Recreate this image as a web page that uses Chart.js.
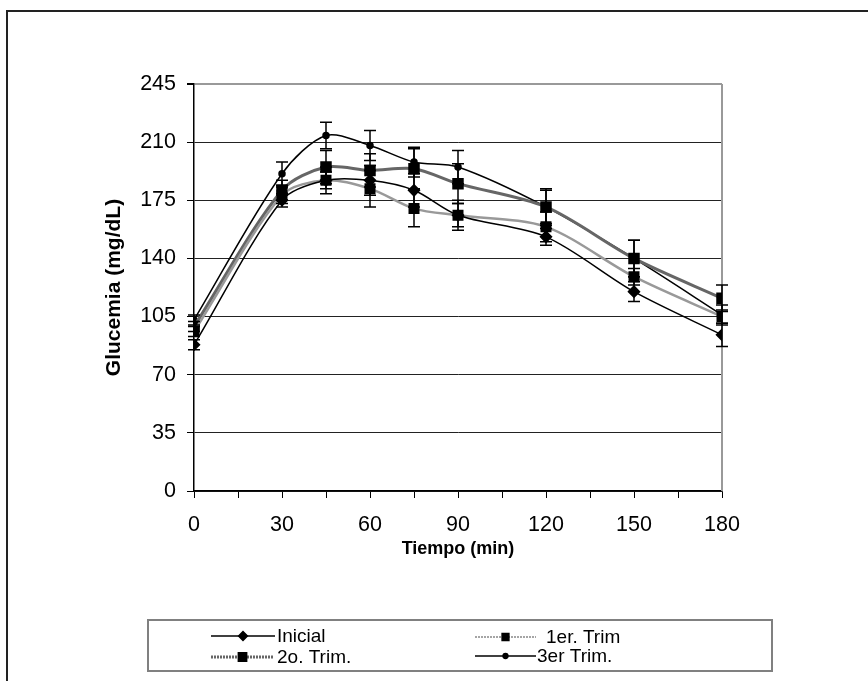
<!DOCTYPE html>
<html lang="es">
<head>
  <meta charset="UTF-8">
  <title>Glucemia por trimestre</title>
  <script src="https://cdn.jsdelivr.net/npm/chart.js"></script>
  <style>
    html, body { margin: 0; padding: 0; background: #fff; overflow: hidden; }
    #marco { position: absolute; left: 6px; top: 10px; width: 900px; height: 700px; border: 2px solid #222; }
    #wrap { position: absolute; left: 0; top: 0; width: 868px; height: 681px; }
  </style>
</head>
<body>
  <div id="marco"></div>
  <div id="wrap"><canvas id="grafica"></canvas></div>

  <script>
    // tiempos de muestreo (min)
    const tiempo = [0, 30, 45, 60, 75, 90, 120, 150, 180];

    // glucemia media (mg/dL) por grupo
    const inicial = [88, 175, 187, 187, 181, 166, 153, 120, 94];
    const trim1   = [96, 178, 187, 182, 170, 166, 159, 129, 105];
    const trim2   = [99, 181, 195, 193, 194, 185, 171, 140, 116];
    const trim3   = [103, 191, 214, 208, 198, 195, 171, 140, 106];

    // error (+/-) de cada punto
    const errInicial = [3, 4, 5, 9, 10, 9, 5, 6, 7];
    const errTrim1   = [3, 5, 8, 11, 11, 7, 9, 5, 4];
    const errTrim2   = [3, 6, 10, 10, 12, 12, 10, 11, 8];
    const errTrim3   = [3, 7, 8, 9, 9, 10, 11, 11, 6];

    // etiquetas de ejes
    const xLabels = [0, 30, 60, 90, 120, 150, 180];
    const yLabels = [0, 35, 70, 105, 140, 175, 210, 245];

    const puntos = vals => tiempo.map((t, i) => ({ x: t, y: vals[i] }));

    // barras de error dibujadas con las escalas del grafico
    const barrasError = {
      id: 'barrasError',
      afterDatasetsDraw(chart) {
        const { ctx, scales: { x, y } } = chart;
        ctx.save();
        ctx.strokeStyle = '#000';
        ctx.lineWidth = 1.5;
        chart.data.datasets.forEach(ds => {
          ds.errores.forEach((e, j) => {
            const p = ds.data[j];
            const px = x.getPixelForValue(p.x);
            const arriba = y.getPixelForValue(p.y + e);
            const abajo = y.getPixelForValue(p.y - e);
            ctx.beginPath();
            ctx.moveTo(px, arriba); ctx.lineTo(px, abajo);
            ctx.moveTo(px - 6, arriba); ctx.lineTo(px + 6, arriba);
            ctx.moveTo(px - 6, abajo); ctx.lineTo(px + 6, abajo);
            ctx.stroke();
          });
        });
        ctx.restore();
      }
    };

    // borde gris derecho del area de trazado
    const bordeArea = {
      id: 'bordeArea',
      beforeDatasetsDraw(chart) {
        const { ctx, chartArea: a } = chart;
        ctx.save();
        ctx.strokeStyle = '#999';
        ctx.lineWidth = 2;
        ctx.beginPath();
        ctx.moveTo(a.right, a.top);
        ctx.lineTo(a.right, a.bottom);
        ctx.stroke();
        ctx.restore();
      }
    };

    // leyenda en recuadro como la de Excel
    const leyenda = {
      id: 'leyenda',
      afterDraw(chart) {
        const ctx = chart.ctx;
        ctx.save();
        ctx.strokeStyle = '#808080';
        ctx.lineWidth = 2;
        ctx.strokeRect(148, 620, 624, 51);
        const sitios = [
          { x1: 211, x2: 275, y: 636, tx: 277 },
          { x1: 475, x2: 536, y: 637, tx: 546 },
          { x1: 211, x2: 274, y: 657, tx: 277 },
          { x1: 475, x2: 536, y: 656, tx: 537 }
        ];
        ctx.font = '19px "Liberation Sans", Arial, sans-serif';
        ctx.textBaseline = 'middle';
        ctx.textAlign = 'left';
        chart.data.datasets.forEach((ds, i) => {
          const s = sitios[i];
          ctx.strokeStyle = ds.legendColor;
          ctx.lineWidth = ds.legendWidth;
          ctx.setLineDash(ds.legendDash);
          ctx.beginPath();
          ctx.moveTo(s.x1, s.y); ctx.lineTo(s.x2, s.y);
          ctx.stroke();
          ctx.setLineDash([]);
          ctx.fillStyle = '#000';
          ctx.strokeStyle = '#000';
          Chart.helpers.drawPoint(ctx, {
            pointStyle: ds.pointStyle, rotation: 0,
            radius: ds.pointRadius * 0.8, borderWidth: 1
          }, (s.x1 + s.x2) / 2, s.y);
          ctx.fillText(ds.label, s.tx, s.y + 1);
        });
        ctx.restore();
      }
    };

    const fuenteTitulo = { family: '"Liberation Sans", Arial, sans-serif', size: 18, weight: 'bold' };
    const fuenteTituloY = { family: '"Liberation Sans", Arial, sans-serif', size: 21, weight: 'bold' };
    const fuenteTicks = { family: '"Liberation Sans", Arial, sans-serif', size: 21.5 };

    new Chart(document.getElementById('grafica'), {
      type: 'line',
      data: {
        datasets: [
          {
            label: 'Inicial', data: puntos(inicial), errores: errInicial,
            borderColor: '#000', borderWidth: 1.5,
            pointStyle: 'rectRot', pointRadius: 5.5,
            pointBackgroundColor: '#000', pointBorderColor: '#000',
            legendColor: '#000', legendWidth: 1.5, legendDash: []
          },
          {
            label: '1er. Trim', data: puntos(trim1), errores: errTrim1,
            borderColor: '#999', borderWidth: 2.5,
            pointStyle: 'rect', pointRadius: 6,
            pointBackgroundColor: '#000', pointBorderColor: '#000',
            legendColor: '#888', legendWidth: 1.5, legendDash: [2, 1]
          },
          {
            label: '2o. Trim.', data: puntos(trim2), errores: errTrim2,
            borderColor: '#666', borderWidth: 3,
            pointStyle: 'rect', pointRadius: 6,
            pointBackgroundColor: '#000', pointBorderColor: '#000',
            legendColor: '#666', legendWidth: 3, legendDash: [2, 1]
          },
          {
            label: '3er Trim.', data: puntos(trim3), errores: errTrim3,
            borderColor: '#000', borderWidth: 1.5,
            pointStyle: 'circle', pointRadius: 3,
            pointBackgroundColor: '#000', pointBorderColor: '#000',
            legendColor: '#000', legendWidth: 1.5, legendDash: []
          }
        ]
      },
      options: {
        responsive: true,
        maintainAspectRatio: false,
        devicePixelRatio: 1,
        animation: false,
        layout: { padding: { left: 0, top: 84, right: 146, bottom: 110 } },
        elements: { line: { tension: 0.3, fill: false } },
        plugins: { legend: { display: false }, tooltip: { enabled: false } },
        scales: {
          x: {
            type: 'linear', min: 0, max: 180,
            afterFit: s => { s.height = 80; },
            ticks: {
              stepSize: 15, autoSkip: false, maxRotation: 0,
              color: '#000', font: fuenteTicks, padding: 14,
              callback: v => xLabels.includes(v) ? v : ''
            },
            grid: { drawOnChartArea: false, drawTicks: true, tickLength: 7, color: '#000' },
            border: { display: true, color: '#000', width: 1.5 },
            title: {
              display: true, text: 'Tiempo (min)', color: '#000',
              font: fuenteTitulo, padding: { top: 0, bottom: 11 }
            }
          },
          y: {
            min: 0, max: 245,
            afterFit: s => { s.width = 194; },
            afterBuildTicks: s => { s.ticks = yLabels.map(v => ({ value: v })); },
            ticks: { color: '#000', font: fuenteTicks, padding: 11 },
            grid: {
              color: c => c.tick && c.tick.value === 245 ? '#999' : '#222',
              lineWidth: c => c.tick && c.tick.value === 245 ? 2 : 1,
              drawTicks: true, tickLength: 7, tickColor: '#000'
            },
            border: { display: true, color: '#000', width: 1.5 },
            title: {
              display: true, text: 'Glucemia (mg/dL)', color: '#000',
              font: fuenteTituloY, padding: { top: 102, bottom: 0 }
            }
          }
        }
      },
      plugins: [bordeArea, barrasError, leyenda]
    });
  </script>
</body>
</html>
